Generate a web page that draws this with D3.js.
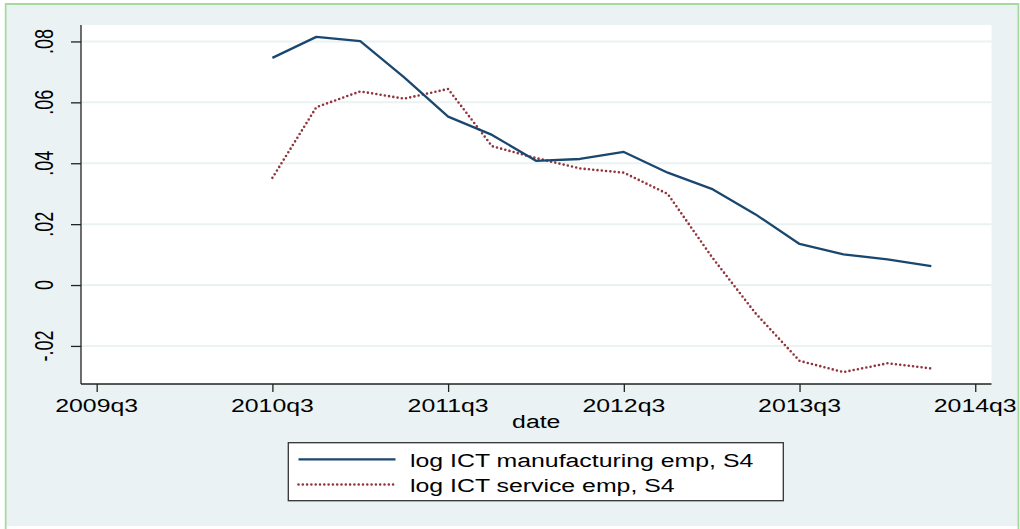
<!DOCTYPE html>
<html>
<head>
<meta charset="utf-8">
<script src="https://cdn.jsdelivr.net/npm/d3@7"></script>
<style>
  html, body { margin: 0; padding: 0; background: #ffffff; }
  svg { display: block; }
  text { font-family: "Liberation Sans", Arial, sans-serif; fill: #000; }
</style>
</head>
<body>
<svg id="chart" width="1020" height="529"></svg>
<script>
// ---- data ----
const quarters = ["2010q3","2010q4","2011q1","2011q2","2011q3","2011q4","2012q1","2012q2",
                  "2012q3","2012q4","2013q1","2013q2","2013q3","2013q4","2014q1","2014q2"];
const manufacturing = [0.0746,0.0815,0.0801,0.0682,0.0553,0.0493,0.0408,0.0414,
                       0.0437,0.0369,0.0316,0.0232,0.0135,0.0101,0.0084,0.0062];
const service = [0.0352,0.0584,0.0636,0.0612,0.0644,0.0456,0.0417,0.0383,
                 0.0369,0.0299,0.0093,-0.0093,-0.0249,-0.0286,-0.0257,-0.0274];
const xTickLabels = ["2009q3","2010q3","2011q3","2012q3","2013q3","2014q3"];
const yTickValues = [-0.02, 0, 0.02, 0.04, 0.06, 0.08];
const yTickLabels = ["-.02", "0", ".02", ".04", ".06", ".08"];
const seriesNames = ["log ICT manufacturing emp, S4", "log ICT service emp, S4"];
const xTitle = "date";

// ---- helpers ----
function qIndex(s) { // quarters since 2009q3
  const y = +s.slice(0, 4), q = +s.slice(5);
  return (y - 2009) * 4 + (q - 3);
}
const SX = 1.38; // horizontal text stretch
const BG = "#EAF2F3";
const BLUE = "#1a476f";
const RED = "#90353b";

const svg = d3.select("#chart");

// outer graph region
svg.append("rect").attr("x", 6.5).attr("y", 5).attr("width", 1011.5).attr("height", 521)
  .attr("fill", BG);
svg.append("path").attr("d", "M5.7,529 L5.7,4 L1018.4,4 L1018.4,529")
  .attr("fill", "none").attr("stroke", "#a6d9a0").attr("stroke-width", 1.8);

const L = 81, R = 991.5, T = 25, B = 384;
const x = d3.scaleLinear().domain([-0.357, 20.37]).range([L, R]);
const y = d3.scaleLinear().domain([-0.0325, 0.0854]).range([B, T]);

// plot region
svg.append("rect").attr("x", L).attr("y", T).attr("width", R - L).attr("height", B - T)
  .attr("fill", "#ffffff");

// gridlines
svg.append("g").selectAll("line").data(yTickValues).join("line")
  .attr("x1", L).attr("x2", R)
  .attr("y1", d => y(d)).attr("y2", d => y(d))
  .attr("stroke", BG).attr("stroke-width", 2);

// y axis
const yAxis = svg.append("g").attr("transform", `translate(${L},0)`)
  .call(d3.axisLeft(y).tickValues(yTickValues).tickSize(10).tickFormat(""));
yAxis.select(".domain").attr("d", `M0,${T}V${B}`).attr("stroke", "#222").attr("stroke-width", 1.3);
yAxis.selectAll(".tick line").attr("stroke", "#222").attr("stroke-width", 1.3);
svg.append("g").selectAll("text").data(yTickValues).join("text")
  .attr("transform", d => `translate(53,${y(d)}) scale(${SX},1) rotate(-90)`)
  .attr("text-anchor", "middle").attr("font-size", 18)
  .text((d, i) => yTickLabels[i]);

// x axis
const xTickVals = xTickLabels.map(qIndex);
const xAxis = svg.append("g").attr("transform", `translate(0,${B})`)
  .call(d3.axisBottom(x).tickValues(xTickVals).tickSize(8).tickFormat(""));
xAxis.select(".domain").attr("d", `M${L},0H${R}`).attr("stroke", "#222").attr("stroke-width", 1.3);
xAxis.selectAll(".tick line").attr("stroke", "#222").attr("stroke-width", 1.3);
svg.append("g").selectAll("text").data(xTickLabels).join("text")
  .attr("transform", d => `translate(${x(qIndex(d))},412) scale(${SX},1)`)
  .attr("text-anchor", "middle").attr("font-size", 18)
  .text(d => d);
svg.append("text")
  .attr("transform", `translate(${(L + R) / 2},428) scale(${SX},1)`)
  .attr("text-anchor", "middle").attr("font-size", 18).text(xTitle);

// lines
const line = d3.line().x((d, i) => x(qIndex(quarters[i]))).y(d => y(d));
svg.append("path").datum(service).attr("d", line)
  .attr("fill", "none").attr("stroke", RED).attr("stroke-width", 2.6)
  .attr("stroke-linecap", "round").attr("stroke-dasharray", "0 4.3");
svg.append("path").datum(manufacturing).attr("d", line)
  .attr("fill", "none").attr("stroke", BLUE).attr("stroke-width", 2.3)
  .attr("stroke-linejoin", "round");

// legend
const lg = svg.append("g");
lg.append("rect").attr("x", 288.3).attr("y", 442.7).attr("width", 495).attr("height", 58)
  .attr("fill", "#ffffff").attr("stroke", "#333").attr("stroke-width", 1.3);
const legendRows = [
  { name: seriesNames[0], color: BLUE, dash: null, w: 2.3, ly: 459.3, ty: 467.3 },
  { name: seriesNames[1], color: RED, dash: "0 4.3", w: 2.6, ly: 484.5, ty: 491.7 }
];
legendRows.forEach(r => {
  const ln = lg.append("line").attr("x1", 298.5).attr("x2", 395.5)
    .attr("y1", r.ly).attr("y2", r.ly)
    .attr("stroke", r.color).attr("stroke-width", r.w);
  if (r.dash) ln.attr("stroke-dasharray", r.dash).attr("stroke-linecap", "round");
  lg.append("text").attr("transform", `translate(410,${r.ty}) scale(${SX},1)`)
    .attr("font-size", 18).text(r.name);
});
</script>
</body>
</html>
